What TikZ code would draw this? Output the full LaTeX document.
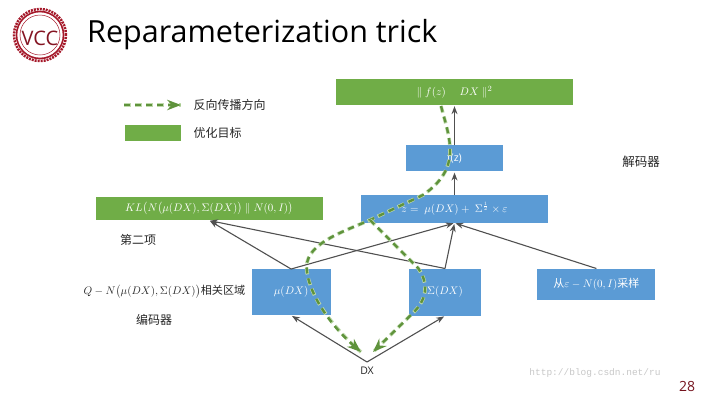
\documentclass[tikz,border=0pt]{standalone}
\usepackage{amsmath,amssymb}
\usepackage{fontspec}
\usepackage{tikz}
\usetikzlibrary{positioning,arrows.meta}
\setmainfont{Open Sans}
\newfontfamily\cjk{Noto Sans CJK SC}
\newfontfamily\wmfont{Liberation Mono}
\newcommand{\sizept}[1]{\fontsize{#1}{#1}\selectfont}
\definecolor{lossgreen}{HTML}{70AD47}
\definecolor{netblue}{HTML}{5B9BD5}
\definecolor{arrowgray}{HTML}{505050}
\definecolor{logored}{HTML}{A5192A}
\tikzset{
  >=Stealth,
  shorten >=1pt,
  lossbox/.style={fill=lossgreen,text=white,inner sep=0pt,font=\sizept{11}},
  netbox/.style={fill=netblue,text=white,inner sep=0pt,font=\sizept{10.5}},
  netarrow/.style={->,draw=arrowgray,line width=1.1pt},
  backflow/.style={->,draw=lossgreen!85!black,line width=2.4pt,dash pattern=on 6pt off 5pt,shorten >=0pt,
    preaction={draw=lossgreen!45,line width=3.6pt,dash pattern=on 7pt off 4pt,-}},
  cjklabel/.style={font=\cjk\sizept{12},text=black!85}
}

\begin{document}
\begin{tikzpicture}[x=1pt,y=-1pt]
\useasboundingbox (0,0) rectangle (720,405);

% title and logo
\node[anchor=west,inner sep=0pt,font=\sizept{30.5}] (title) at (87,35) {Reparameterization trick};
\draw[logored,line width=2.5pt,dash pattern=on 2pt off 1pt] (40,35) circle (26pt);
\draw[logored,line width=1.6pt,fill=white] (40,35) circle (23.5pt);
\draw[logored,line width=0.5pt] (40,35) circle (20pt);
\node[inner sep=0pt,text=logored!80!black,font=\sizept{20}] (logo) at (40,38) {VCC};

% legend
\coordinate (legstart) at (124,105);
\coordinate (legend) at (181,105);
\draw[backflow] (legstart) -- (legend);
\node[fill=lossgreen,minimum width=56pt,minimum height=16pt,inner sep=0pt] (legbox) at (153,133) {};
\node[cjklabel,right=9pt of legend] (legflow) {反向传播方向};
\node[cjklabel,right=9pt of legbox] (leggoal) {优化目标};

% boxes
\node[lossbox,minimum width=237pt,minimum height=26pt] (recon) at (454.5,92) {$\parallel f(z)\quad\ DX \parallel^2$};
\node[netbox,minimum width=97pt,minimum height=26pt,below=40pt of recon] (fz) {f(z)};
\node[netbox,minimum width=187pt,minimum height=28pt,below=23pt of fz] (zbox) {$z=\ \mu(DX)+\ \Sigma^{\frac{1}{2}}\times\varepsilon$};
\node[lossbox,minimum width=227pt,minimum height=23pt,left=38pt of zbox,font=\sizept{10.5}] (kl) {$KL\bigl(N\bigl(\mu(DX),\Sigma(DX)\bigr)\parallel N(0,I)\bigr)$};
\node[netbox,minimum width=79pt,minimum height=46pt,below left=46pt and 30pt of zbox] (mu) {$\mu(DX)$};
\node[netbox,minimum width=72pt,minimum height=47pt,right=78pt of mu] (sigma) {$\Sigma(DX)$};
\node[netbox,minimum width=118pt,minimum height=31pt,right=56pt of sigma,yshift=8pt,font=\cjk\sizept{11}] (eps) {从$\varepsilon-N(0,I)$采样};
\node[anchor=north,inner xsep=2pt,inner ysep=5pt,font=\sizept{10.5},text=black!85] (dx) at (367,362) {DX};

% texts
\node[cjklabel,font=\cjk\sizept{12.5}] (dec) at (641,162) {解码器};
\node[cjklabel,below=10pt of kl,xshift=-71pt] (second) {第二项};
\node[cjklabel,left=6pt of mu,inner sep=0pt,font=\cjk\sizept{11.1}] (region) {$Q-N\bigl(\mu(DX),\Sigma(DX)\bigr)$相关区域};
\node[cjklabel] (enc) at (154,320) {编码器};
\node[inner sep=0pt,font=\wmfont\sizept{9.5},text=black!22] (wm) at (595,373) {http://blog.csdn.net/ru};
\node[inner sep=0pt,font=\sizept{14},text=logored!70!black] (page) at (687,386) {28};

% network arrows
\draw[netarrow] (dx.north) -- (mu.south);
\draw[netarrow] (dx.north) -- (sigma.south);
\draw[netarrow] (mu.north) -- (kl.south);
\draw[netarrow] (sigma.north) -- (kl.south);
\draw[netarrow] (mu.north) -- (zbox.south);
\draw[netarrow] (sigma.north) -- (zbox.south);
\draw[netarrow] (eps.north) -- (zbox.south);
\draw[netarrow] (zbox.north) -- (fz.south);
\draw[netarrow] (fz.north) -- (recon.south);

% back propagation
\coordinate (flowtop) at (441,106);
\coordinate (flowmid) at (423,195);
\coordinate (flowfork) at (370,220);
\coordinate (flowside) at (418,268);
\coordinate (flowend) at (361,352);
\coordinate (flowendb) at (373,352);
\draw[backflow] (flowtop) .. controls (450,140) and (462,168) .. (flowmid) -- (flowfork)
  .. controls (340,233) and (302,245) .. (307,272) .. controls (310,295) and (330,325) .. (flowend);
\draw[backflow] (flowfork) -- (flowside) .. controls (430,285) and (426,300) .. (413,313) -- (flowendb);
\end{tikzpicture}
\end{document}
